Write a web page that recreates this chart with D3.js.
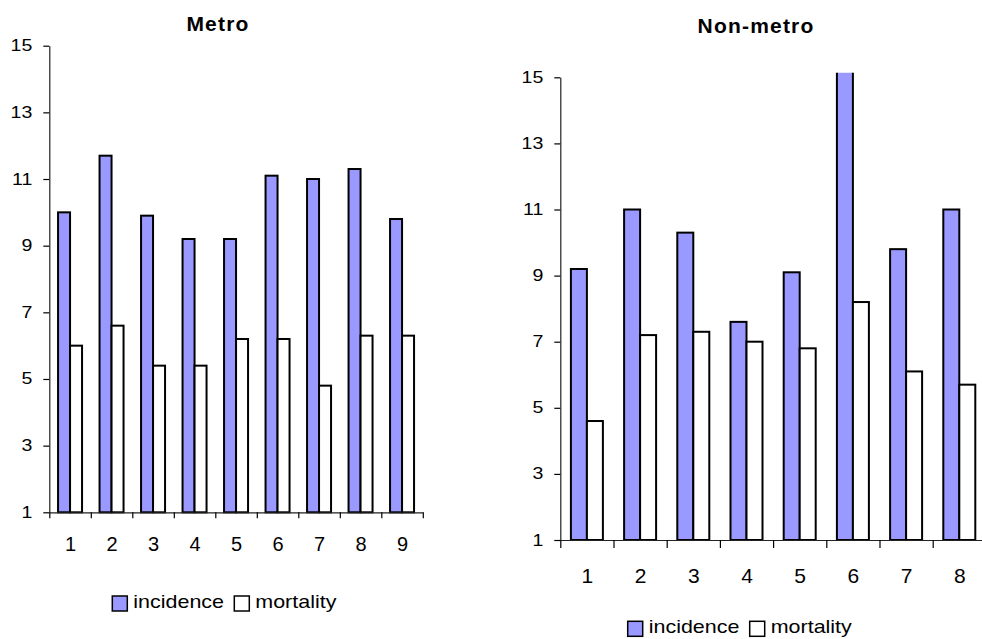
<!DOCTYPE html>
<html>
<head>
<meta charset="utf-8">
<script src="https://cdn.jsdelivr.net/npm/d3@7"></script>
<style>
  html, body { margin: 0; padding: 0; background: #fff; }
  svg { display: block; }
  text { font-family: "Liberation Sans", Arial, sans-serif; fill: #000; }
</style>
</head>
<body>
<svg id="chart" width="982" height="639"></svg>
<script>
// ---- data ----
const metroCategories = ["1", "2", "3", "4", "5", "6", "7", "8", "9"];
const metroIncidence  = [10.0, 11.7, 9.9, 9.2, 9.2, 11.1, 11.0, 11.3, 9.8];
const metroMortality  = [6.0, 6.6, 5.4, 5.4, 6.2, 6.2, 4.8, 6.3, 6.3];

const nonMetroCategories = ["1", "2", "3", "4", "5", "6", "7", "8"];
const nonMetroIncidence  = [9.2, 11.0, 10.3, 7.6, 9.1, 15.6, 9.8, 11.0];
const nonMetroMortality  = [4.6, 7.2, 7.3, 7.0, 6.8, 8.2, 6.1, 5.7];

const yTickValues = [1, 3, 5, 7, 9, 11, 13, 15];
const yDomain = [1, 15];
const seriesNames = ["incidence", "mortality"];
const seriesColors = ["#9999FF", "#FFFFFF"];

// ---- layout ----
const panels = [
  {
    title: "Metro", cats: metroCategories, inc: metroIncidence, mort: metroMortality,
    x0: 49.3, step: 41.5, yTop: 45.7, yBot: 512.3, barW: 12,
    titleX: 218, titleY: 31, xLabelY: 551, xLabelSize: 20, xTickLen: 6,
    legendX: 112.3, legendY: 608
  },
  {
    title: "Non-metro", cats: nonMetroCategories, inc: nonMetroIncidence, mort: nonMetroMortality,
    x0: 560.3, step: 53.2, yTop: 77.3, yBot: 540, barW: 16,
    titleX: 756, titleY: 33.3, xLabelY: 583.3, xLabelSize: 21, xTickLen: 8,
    legendX: 627.7, legendY: 633.3
  }
];

const svg = d3.select("#chart");

panels.forEach((p, pi) => {
  const n = p.cats.length;
  const x1 = p.x0 + n * p.step;
  const xLin = d3.scaleLinear().domain([0, n]).range([p.x0, x1]);
  const y = d3.scaleLinear().domain(yDomain).range([p.yBot, p.yTop]);

  const g = svg.append("g");

  // clip (plot area)
  const clipId = "clip" + pi;
  g.append("clipPath").attr("id", clipId)
    .append("rect")
    .attr("x", p.x0).attr("y", y(15) - 4.6)
    .attr("width", x1 - p.x0).attr("height", p.yBot - (y(15) - 4.6) + 2);

  // bars
  const bars = g.append("g").attr("clip-path", `url(#${clipId})`);
  const rows = p.cats.map((c, i) => ({ i, vals: [p.inc[i], p.mort[i]] }));
  rows.forEach(r => {
    const cx = xLin(r.i + 0.5);
    r.vals.forEach((v, s) => {
      bars.append("rect")
        .attr("x", cx - p.barW + s * p.barW)
        .attr("y", y(v))
        .attr("width", p.barW)
        .attr("height", y(yDomain[0]) - y(v))
        .attr("fill", seriesColors[s])
        .attr("stroke", "#000")
        .attr("stroke-width", 2);
    });
  });

  // y axis
  const yAxis = g.append("g")
    .attr("transform", `translate(${p.x0},0)`)
    .call(d3.axisLeft(y).tickValues(yTickValues).tickSize(6).tickSizeOuter(0).tickFormat(d3.format("d")));
  yAxis.select(".domain").attr("stroke", "#222").attr("stroke-width", 1.2);
  yAxis.selectAll(".tick line").attr("stroke", "#000").attr("stroke-width", 1.2);
  yAxis.selectAll(".tick text")
    .attr("x", 0).attr("dy", null).attr("y", 5)
    .attr("transform", "translate(-17,0) scale(1.15,1)")
    .style("font-size", "17px")
    .attr("fill", "#000");

  // x axis line + boundary ticks
  const xAxis = g.append("g")
    .attr("transform", `translate(0,${p.yBot})`)
    .call(d3.axisBottom(xLin).tickValues(d3.range(0, n + 1)).tickSize(p.xTickLen).tickSizeOuter(0).tickFormat(""));
  xAxis.select(".domain").attr("stroke", "#222").attr("stroke-width", 1.2);
  xAxis.selectAll(".tick line").attr("stroke", "#000").attr("stroke-width", 1.2);

  // x category labels
  const xLabels = g.append("g")
    .attr("transform", `translate(0,${p.yBot})`)
    .call(d3.axisBottom(xLin).tickValues(d3.range(n).map(i => i + 0.5)).tickSize(0)
      .tickFormat(d => p.cats[Math.floor(d)]));
  xLabels.select(".domain").remove();
  xLabels.selectAll(".tick text")
    .attr("y", p.xLabelY - p.yBot).attr("dy", null)
    .style("font-size", p.xLabelSize + "px")
    .attr("fill", "#000");

  // title
  g.append("text")
    .attr("x", p.titleX).attr("y", p.titleY)
    .attr("text-anchor", "middle")
    .style("font-size", "21px").style("font-weight", "bold").style("letter-spacing", "1.2px")
    .text(p.title);

  // legend
  const offsets = [0, 122];
  seriesNames.forEach((name, s) => {
    const lx = p.legendX + offsets[s];
    g.append("rect")
      .attr("x", lx).attr("y", p.legendY - 12)
      .attr("width", 15).attr("height", 15)
      .attr("fill", seriesColors[s]).attr("stroke", "#000").attr("stroke-width", 1.5);
    g.append("text")
      .attr("transform", `translate(${lx + 21},${p.legendY}) scale(1.13,1)`)
      .style("font-size", "19px")
      .text(name);
  });
});
</script>
</body>
</html>
